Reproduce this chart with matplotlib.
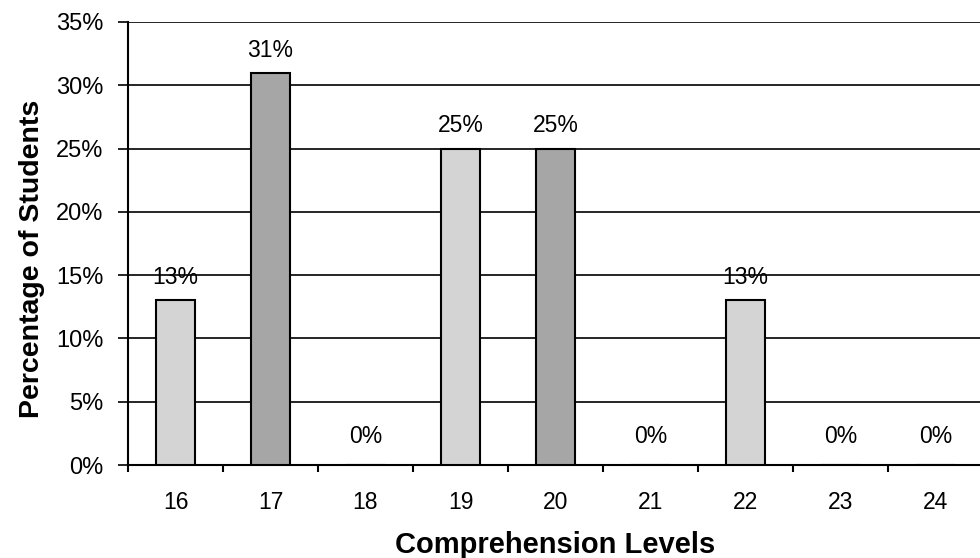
import numpy as np
import matplotlib.pyplot as plt
from matplotlib.ticker import FixedLocator, FuncFormatter

levels = ['16', '17', '18', '19', '20', '21', '22', '23', '24']
percent = [13, 31, 0, 25, 25, 0, 13, 0, 0]
shade = ['#d4d4d4', '#a6a6a6', '#d4d4d4', '#d4d4d4', '#a6a6a6',
         '#d4d4d4', '#d4d4d4', '#d4d4d4', '#d4d4d4']

plt.rcParams['font.family'] = ['Liberation Sans', 'DejaVu Sans']

fig = plt.figure(figsize=(9.8, 5.58), dpi=100)
ax = fig.add_axes([128 / 980, 93 / 558, 855 / 980, 443 / 558])

x = np.arange(len(levels))
bars = ax.bar(x, percent, width=0.42, color=shade, edgecolor='black',
              linewidth=1.5, zorder=3)

# labels sit a bit higher on the empty (0%) columns
for xi, v in zip(x, percent):
    off = 12 if v == 0 else 8
    ax.annotate('%d%%' % v, (xi, v), xytext=(0, off), textcoords='offset points',
                ha='center', va='bottom', fontsize=16.5, zorder=4)

ax.set_xlim(-0.5, len(levels) - 0.5)
ax.set_ylim(0, 35)
ax.yaxis.set_major_locator(FixedLocator(np.arange(0, 36, 5)))
ax.yaxis.set_major_formatter(FuncFormatter(lambda v, p: '%d%%' % v))
ax.grid(axis='y', color='black', linewidth=1.2, zorder=0)

ax.set_xticks(x)
ax.set_xticklabels(levels)
ax.set_xticks(np.arange(-0.5, len(levels), 1), minor=True)
ax.tick_params(axis='x', which='major', length=0, pad=19, labelsize=16.5)
ax.tick_params(axis='x', which='minor', length=5, width=1.5, direction='out')
ax.tick_params(axis='y', length=7.5, width=1.2, direction='out', pad=10,
               labelsize=17)

for side in ['top', 'right']:
    ax.spines[side].set_visible(False)
ax.spines['left'].set_linewidth(1.5)
ax.spines['bottom'].set_linewidth(1.5)

ax.set_ylabel('Percentage of Students', fontsize=20.5, fontweight='bold')
ax.yaxis.set_label_coords(-0.097, 0.465)
ax.set_xlabel('Comprehension Levels', fontsize=21, fontweight='bold',
              labelpad=12)

fig.savefig('out.png', dpi=100)
